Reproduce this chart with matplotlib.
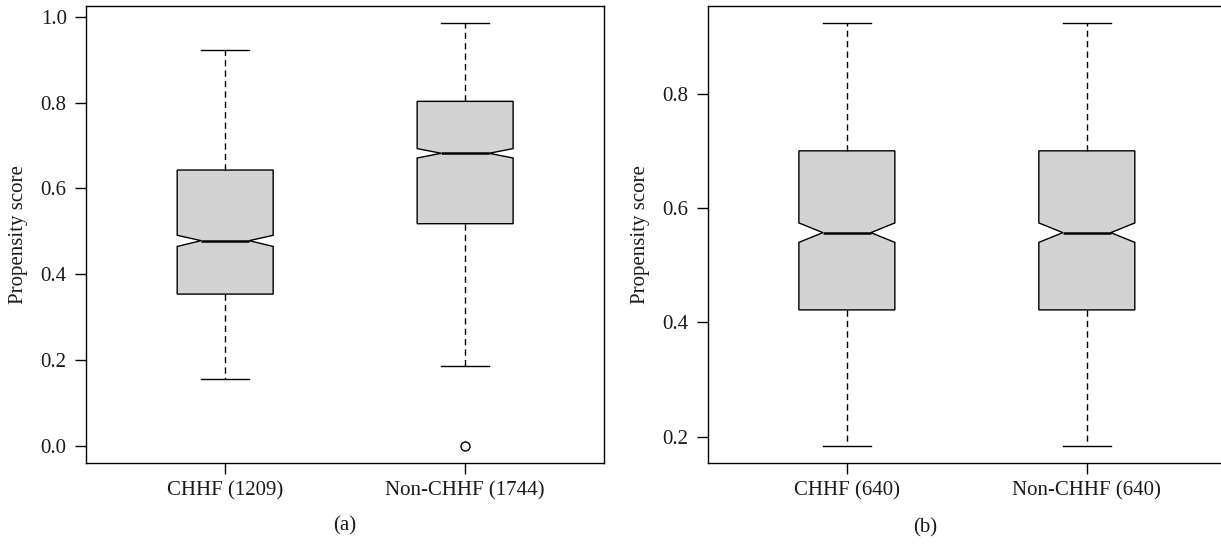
import matplotlib
matplotlib.use("Agg")
import matplotlib.pyplot as plt

plt.rcParams['font.family'] = ['Liberation Serif', 'DejaVu Serif']

# ---- data ----
labels_a = ["CHHF (1209)", "Non-CHHF (1744)"]
whislo_a = [0.156, 0.186]
q1_a = [0.354, 0.518]
med_a = [0.4785, 0.682]
q3_a = [0.643, 0.803]
whishi_a = [0.922, 0.985]
cilo_a = [0.465, 0.671]
cihi_a = [0.491, 0.693]
fliers_a = [[], [0.0]]
yticks_a = [0.0, 0.2, 0.4, 0.6, 0.8, 1.0]

labels_b = ["CHHF (640)", "Non-CHHF (640)"]
whislo_b = [0.184, 0.185]
q1_b = [0.422, 0.422]
med_b = [0.557, 0.557]
q3_b = [0.700, 0.700]
whishi_b = [0.923, 0.923]
cilo_b = [0.540, 0.540]
cihi_b = [0.574, 0.574]
fliers_b = [[], []]
yticks_b = [0.2, 0.4, 0.6, 0.8]

panel_labels = ["(a)", "(b)"]

W, H = 1221, 546
fig = plt.figure(figsize=(W / 100, H / 100), dpi=100)

FS = 15
BOXFILL = "#D3D3D3"


def make_stats(labels, wl, q1, med, q3, wh, cl, ch, fl):
    stats = []
    for i in range(len(labels)):
        stats.append(dict(label=labels[i], whislo=wl[i], q1=q1[i], med=med[i],
                          q3=q3[i], whishi=wh[i], cilo=cl[i], cihi=ch[i],
                          fliers=fl[i]))
    return stats


def draw(ax, stats, yticks):
    ax.bxp(stats, positions=[1, 2], widths=0.4, capwidths=0.2, shownotches=True,
           patch_artist=True, showfliers=True,
           boxprops=dict(facecolor=BOXFILL, edgecolor="black", linewidth=1.0),
           medianprops=dict(color="black", linewidth=1.8),
           whiskerprops=dict(color="black", linewidth=1.0, linestyle=(0, (4.5, 3))),
           capprops=dict(color="black", linewidth=1.0),
           flierprops=dict(marker="o", markerfacecolor="none",
                           markeredgecolor="black", markersize=6.5,
                           markeredgewidth=1.0, linestyle="none"))
    # R-style 4% extension of ranges
    allv = []
    for s in stats:
        allv += [s["whislo"], s["whishi"]] + list(s["fliers"])
    lo, hi = min(allv), max(allv)
    d = 0.04 * (hi - lo)
    ax.set_ylim(lo - d, hi + d)
    ax.set_xlim(0.5 - 0.08, 2.5 + 0.08)
    ax.set_yticks(yticks)
    ax.set_yticklabels(["%.1f" % v for v in yticks])
    ax.tick_params(axis="both", direction="out", length=7.9, width=1.0,
                   labelsize=FS, color="black", labelcolor="#1a1a1a")
    ax.tick_params(axis="y", pad=6)
    ax.tick_params(axis="x", pad=5)
    for sp in ax.spines.values():
        sp.set_linewidth(1.0)
        sp.set_color("black")
    ax.set_ylabel("Propensity score", fontsize=FS, color="#1a1a1a")


axw = (604.3 - 86) / W
axb = 1 - 463 / H
axh = (463 - 6.3) / H

ax1 = fig.add_axes([86 / W, axb, axw, axh])
draw(ax1, make_stats(labels_a, whislo_a, q1_a, med_a, q3_a, whishi_a,
                     cilo_a, cihi_a, fliers_a), yticks_a)
ax1.yaxis.set_label_coords((28 - 86) / (axw * W), 0.5)

ax2 = fig.add_axes([707.7 / W, axb, axw, axh])
draw(ax2, make_stats(labels_b, whislo_b, q1_b, med_b, q3_b, whishi_b,
                     cilo_b, cihi_b, fliers_b), yticks_b)
ax2.yaxis.set_label_coords((650 - 707.7) / (axw * W), 0.5)

fig.text(345 / W, 1 - 526 / H, panel_labels[0], ha="center", va="center",
         fontsize=FS, color="#1a1a1a")
fig.text(925 / W, 1 - 528 / H, panel_labels[1], ha="center", va="center",
         fontsize=FS, color="#1a1a1a")

fig.savefig("out.png", dpi=100)
